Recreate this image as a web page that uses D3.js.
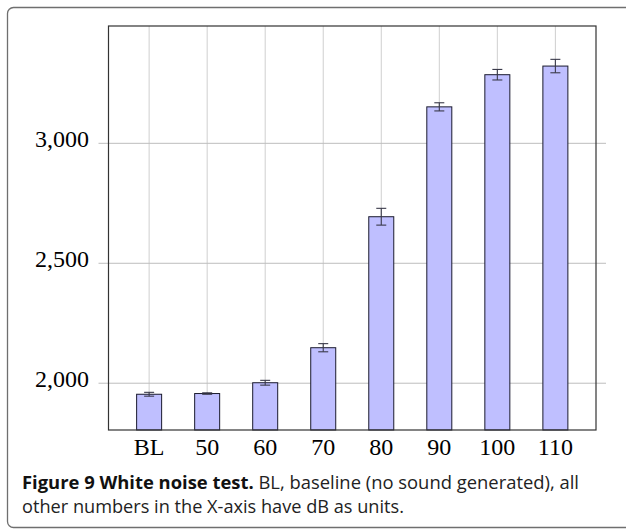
<!DOCTYPE html>
<html>
<head>
<meta charset="utf-8">
<script src="https://cdn.jsdelivr.net/npm/d3@7"></script>
<style>
  body { margin: 0; background: #fff; }
  svg { display: block; }
</style>
</head>
<body>
<div id="chart"></div>
<script>
// data
var categories = ["BL", "50", "60", "70", "80", "90", "100", "110"]
var values = [1954, 1957, 2002, 2148, 2694, 3152, 3286, 3322]
var errors = [8, 3, 10, 17, 35, 17, 22, 28]
var yTicks = [2000, 2500, 3000]

var W = 626, H = 529
var margin = {top: 26, left: 108.5}
var width = 596 - margin.left
var height = 430 - margin.top

var svg = d3.select("#chart")
  .append("svg")
    .attr("width", W)
    .attr("height", H)

// figure frame (runs off the right edge)
svg.append("rect")
  .attr("x", 7.5).attr("y", 7.5)
  .attr("width", 660).attr("height", 520)
  .attr("rx", 6)
  .attr("fill", "none")
  .attr("stroke", "#6f6f6f")
  .attr("stroke-width", 1.3)

var g = svg.append("g")
  .attr("transform", "translate(" + margin.left + "," + margin.top + ")")

var x = d3.scalePoint()
  .domain(categories)
  .range([0, width])
  .padding(0.7)

var y = d3.scaleLinear()
  .domain([1805, 3489])
  .range([height, 0])

// grid
g.append("g")
  .selectAll("line")
  .data(categories)
  .enter().append("line")
    .attr("x1", function(d) { return x(d) })
    .attr("x2", function(d) { return x(d) })
    .attr("y1", 0).attr("y2", height)
    .attr("stroke", "#cfcfcf")
    .attr("stroke-width", 1)

g.append("g")
  .selectAll("line")
  .data(yTicks)
  .enter().append("line")
    .attr("x1", -10).attr("x2", width + 10)
    .attr("y1", function(d) { return y(d) })
    .attr("y2", function(d) { return y(d) })
    .attr("stroke", "#bdbdbd")
    .attr("stroke-width", 1)

// bars
var bw = 25
g.append("g")
  .selectAll("rect")
  .data(values)
  .enter().append("rect")
    .attr("x", function(d, i) { return x(categories[i]) - bw / 2 })
    .attr("y", function(d) { return y(d) })
    .attr("width", bw)
    .attr("height", function(d) { return height - y(d) })
    .attr("fill", "#bfbfff")
    .attr("stroke", "#1a1a2e")
    .attr("stroke-width", 1)

// error bars
var eb = g.append("g")
  .attr("stroke", "#3a3a4a")
  .attr("stroke-width", 1.1)
values.forEach(function(v, i) {
  var cx = x(categories[i])
  eb.append("line").attr("x1", cx).attr("x2", cx)
    .attr("y1", y(v + errors[i])).attr("y2", y(v - errors[i]))
  eb.append("line").attr("x1", cx - 5).attr("x2", cx + 5)
    .attr("y1", y(v + errors[i])).attr("y2", y(v + errors[i]))
  eb.append("line").attr("x1", cx - 5).attr("x2", cx + 5)
    .attr("y1", y(v - errors[i])).attr("y2", y(v - errors[i]))
})

// axis box
g.append("rect")
  .attr("width", width).attr("height", height)
  .attr("fill", "none")
  .attr("stroke", "#333")
  .attr("stroke-width", 1.2)

// tick labels
var fmt = d3.format(",")
g.append("g")
  .selectAll("text")
  .data(yTicks)
  .enter().append("text")
    .attr("x", -19.5)
    .attr("y", function(d) { return y(d) + 4 })
    .attr("text-anchor", "end")
    .style("font-family", "'Liberation Serif', 'DejaVu Serif', serif")
    .style("font-size", "24px")
    .text(function(d) { return fmt(d) })

g.append("g")
  .selectAll("text")
  .data(categories)
  .enter().append("text")
    .attr("x", function(d) { return x(d) })
    .attr("y", height + 25)
    .attr("text-anchor", "middle")
    .style("font-family", "'Liberation Serif', 'DejaVu Serif', serif")
    .style("font-size", "24px")
    .text(function(d) { return d })

// caption
var cap = svg.append("text")
  .attr("x", 22).attr("y", 488.5)
  .attr("textLength", 557)
  .attr("lengthAdjust", "spacingAndGlyphs")
  .style("font-family", "'Open Sans', 'Noto Sans', sans-serif")
  .style("font-size", "18.5px")
  .attr("fill", "#222")
cap.append("tspan").style("font-weight", "bold").attr("fill", "#111").text("Figure 9 White noise test.")
cap.append("tspan").text(" BL, baseline (no sound generated), all")
svg.append("text")
  .attr("x", 22).attr("y", 513)
  .attr("textLength", 382)
  .attr("lengthAdjust", "spacingAndGlyphs")
  .style("font-family", "'Open Sans', 'Noto Sans', sans-serif")
  .style("font-size", "18.5px")
  .attr("fill", "#222")
  .text("other numbers in the X-axis have dB as units.")
</script>
</body>
</html>
